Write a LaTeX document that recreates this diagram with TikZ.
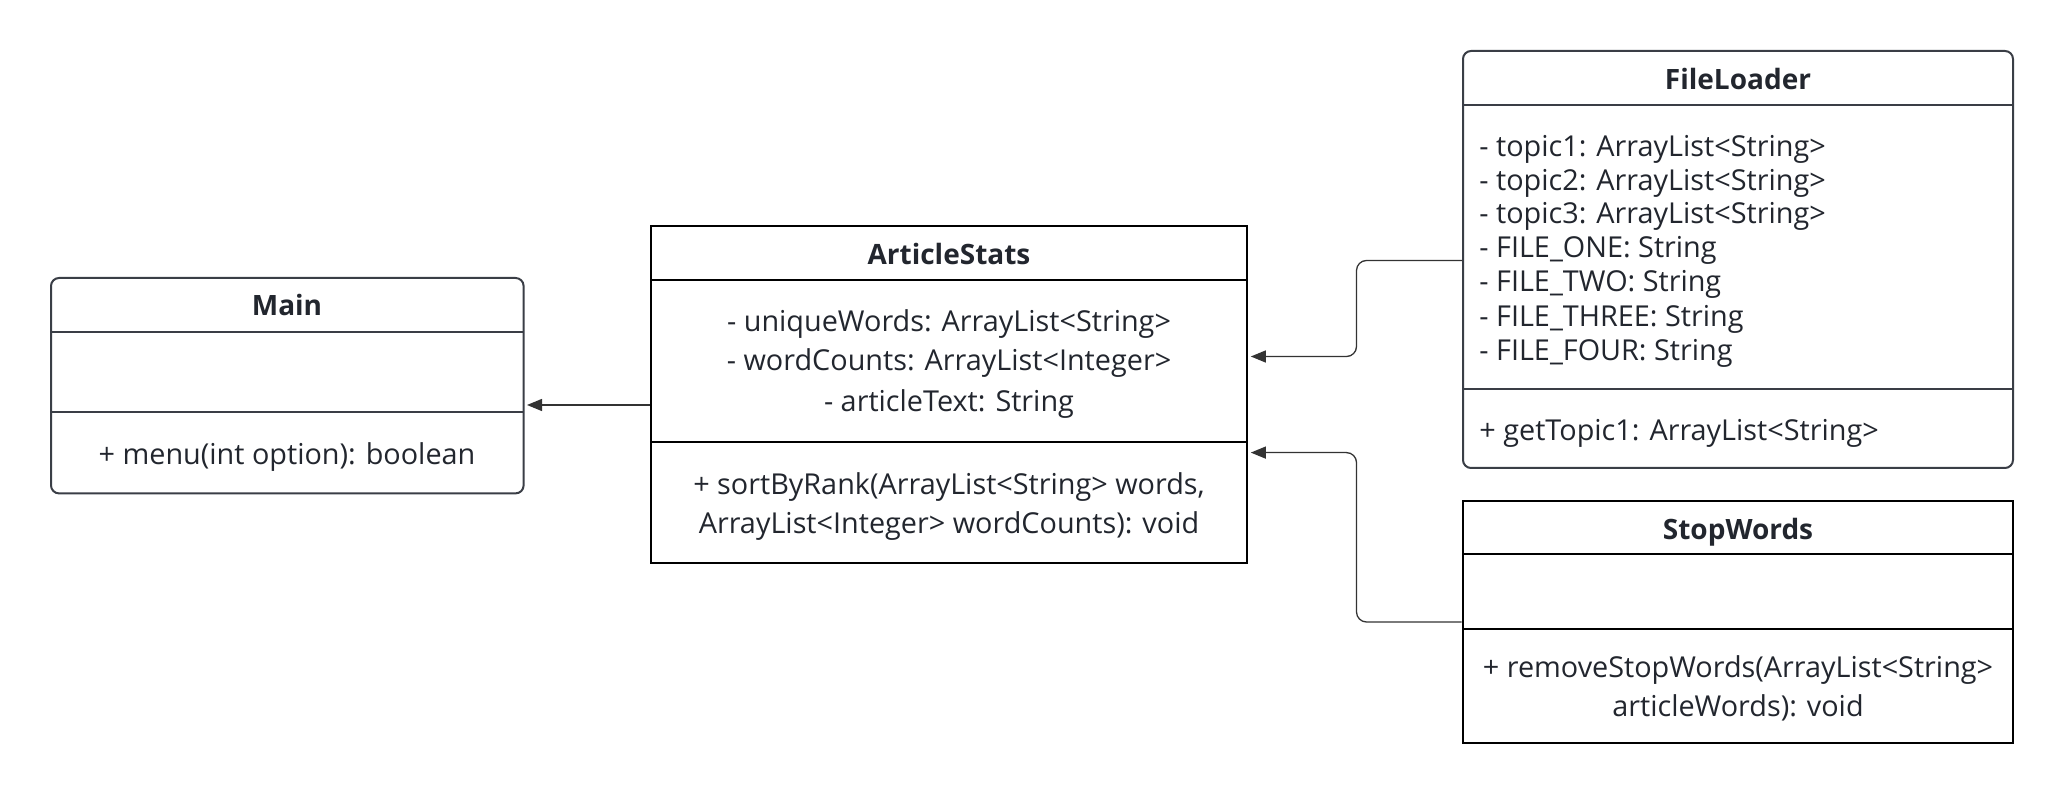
\documentclass[tikz,border=0pt]{standalone}
\usepackage{fontspec}
\setmainfont{Open Sans}
\usetikzlibrary{arrows.meta,fit}
\definecolor{txt}{HTML}{22262E}
\definecolor{soft}{HTML}{3A3E46}
\definecolor{conn}{HTML}{333333}
\begin{document}
\begin{tikzpicture}[x=0.5pt,y=-0.5pt,
  lbl/.style={text=txt, font=\fontsize{14.4}{17}\selectfont, inner sep=0pt, text height=10.4pt, text depth=0pt},
  ttl/.style={text=txt, font=\fontsize{14}{17}\selectfont\bfseries, inner sep=0pt, text height=10.2pt, text depth=0pt},
  softbox/.style={draw=soft, line width=1pt, rounded corners=4pt, inner sep=0pt},
  hardbox/.style={draw=black, line width=1.4pt, inner sep=0pt},
  softline/.style={draw=soft, line width=1pt},
  hardline/.style={draw=black, line width=1.4pt},
  assoc/.style={draw=conn, line width=0.65pt, rounded corners=5pt, -{Triangle[length=7.5pt,width=6pt]}}]
\useasboundingbox (0,0) rectangle (2063,795);

% Main
\node[softbox, fit={(51,278) (523.6,493.4)}] (main) {};
\draw[softline] (51,331.6) -- (523.6,331.6);
\draw[softline] (51,411.8) -- (523.6,411.8);
\node[ttl] (mainT) at (287,305) {Main};
\node[lbl] (mainM) at (287,454) {+ menu(int option): boolean};

% ArticleStats
\node[hardbox, fit={(651,226) (1247,563)}] (as) {};
\draw[hardline] (651,280) -- (1247,280);
\draw[hardline] (651,442) -- (1247,442);
\node[ttl] (asT) at (949,254) {ArticleStats};
\node[lbl] (asA1) at (949,321) {- uniqueWords: ArrayList<String>};
\node[lbl] (asA2) at (949,360.5) {- wordCounts: ArrayList<Integer>};
\node[lbl] (asA3) at (949,401) {- articleText: String};
\node[lbl] (asM1) at (949,484) {+ sortByRank(ArrayList<String> words,};
\node[lbl] (asM2) at (949,523.6) {ArrayList<Integer> wordCounts): void};

% FileLoader
\node[softbox, fit={(1463,51) (2013,468)}] (fl) {};
\draw[softline] (1463,105) -- (2013,105);
\draw[softline] (1463,389) -- (2013,389);
\node[ttl] (flT) at (1738,79) {FileLoader};
\node[lbl, anchor=west] (flA1) at (1479,146) {- topic1: ArrayList<String>};
\node[lbl, anchor=west] (flA2) at (1479,180) {- topic2: ArrayList<String>};
\node[lbl, anchor=west] (flA3) at (1479,213) {- topic3: ArrayList<String>};
\node[lbl, anchor=west] (flA4) at (1479,247) {- FILE\_ONE: String};
\node[lbl, anchor=west] (flA5) at (1479,281.5) {- FILE\_TWO: String};
\node[lbl, anchor=west] (flA6) at (1479,316) {- FILE\_THREE: String};
\node[lbl, anchor=west] (flA7) at (1479,350) {- FILE\_FOUR: String};
\node[lbl, anchor=west] (flM1) at (1479,430) {+ getTopic1: ArrayList<String>};

% StopWords
\node[hardbox, fit={(1463,501) (2013,743)}] (sw) {};
\draw[hardline] (1463,554) -- (2013,554);
\draw[hardline] (1463,629) -- (2013,629);
\node[ttl] (swT) at (1738,529) {StopWords};
\node[lbl] (swM1) at (1738,667) {+ removeStopWords(ArrayList<String>};
\node[lbl] (swM2) at (1738,706.5) {articleWords): void};

% connectors
\coordinate (y1) at (0,405);
\coordinate (y2) at (0,260.5);
\coordinate (y3) at (0,356.5);
\coordinate (y4) at (0,622);
\coordinate (y5) at (0,452.6);
\coordinate (xb) at (1356.5,0);
\draw[assoc] (as.west |- y1) -- ([xshift=1.2pt]main.east |- y1);
\draw[assoc] (fl.west |- y2) -- (xb |- y2) -- (xb |- y3) -- ([xshift=1.2pt]as.east |- y3);
\draw[assoc] (sw.west |- y4) -- (xb |- y4) -- (xb |- y5) -- ([xshift=1.2pt]as.east |- y5);
\end{tikzpicture}
\end{document}
